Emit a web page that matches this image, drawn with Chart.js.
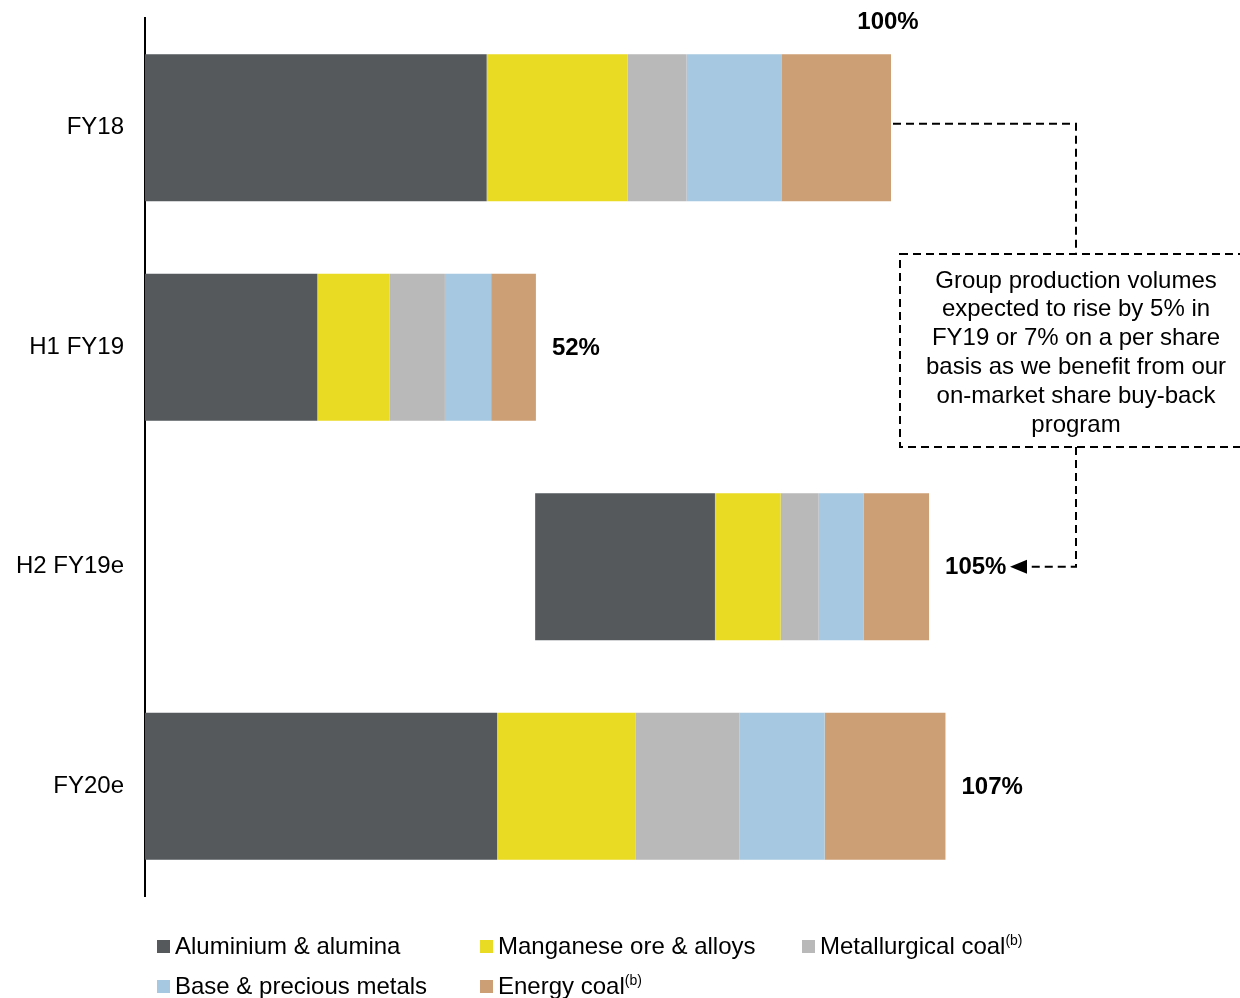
<!DOCTYPE html>
<html>
<head>
<meta charset="utf-8">
<script src="https://cdn.jsdelivr.net/npm/chart.js@4.4.1/dist/chart.umd.min.js"></script>
<style>
  html, body { margin: 0; padding: 0; background: #fff; }
  #wrap { position: relative; width: 1240px; height: 998px; overflow: hidden; font-family: "Liberation Sans", Arial, sans-serif; }
  canvas { position: absolute; left: 0; top: 0; }
  .lg { position: absolute; font-size: 24px; color: #000; white-space: nowrap; line-height: 24px; }
  .lg i { display: inline-block; width: 13px; height: 13px; margin-right: 5px; vertical-align: 1px; }
  .lg sup { font-size: 14px; vertical-align: 9px; line-height: 0; }
</style>
</head>
<body>
<div id="wrap">
  <canvas id="c" width="1240" height="998"></canvas>
  <div id="legend"></div>
</div>
<script>
// ---- data ----
const categories = ["FY18", "H1 FY19", "H2 FY19e", "FY20e"];
const offsetBase = [0, 0, 52.3, 0];           // invisible base so H2 starts where H1 ends
const aluminium   = [45.8, 23.1, 24.1, 47.2];
const manganese   = [18.9, 9.7, 8.8, 18.6];
const metCoal     = [7.9, 7.4, 5.1, 13.9];
const baseMetals  = [12.7, 6.2, 6.0, 11.4];
const energyCoal  = [14.7, 6.0, 8.8, 16.2];
const totalLabels = ["100%", "52%", "105%", "107%"];
const seriesNames = ["Aluminium & alumina", "Manganese ore & alloys", "Metallurgical coal", "Base & precious metals", "Energy coal"];
const seriesSup   = ["", "", "(b)", "", "(b)"];
const seriesColors = ["#55595C", "#E9DA23", "#B9B9BA", "#A6C8E1", "#CD9F75"];
const annotationLines = [
  "Group production volumes",
  "expected to rise by 5% in",
  "FY19 or 7% on a per share",
  "basis as we benefit from our",
  "on-market share buy-back",
  "program"
];

const FONT = '"Liberation Sans", Arial, sans-serif';
const seriesValues = [aluminium, manganese, metCoal, baseMetals, energyCoal];

const datasets = [{
  label: "base", data: offsetBase, backgroundColor: "rgba(0,0,0,0)", borderWidth: 0,
  categoryPercentage: 1, barPercentage: 0.67
}];
seriesValues.forEach((vals, i) => datasets.push({
  label: seriesNames[i], data: vals, backgroundColor: seriesColors[i], borderWidth: 0,
  categoryPercentage: 1, barPercentage: 0.67
}));

function stackEnd(i) {
  let s = offsetBase[i];
  seriesValues.forEach(v => s += v[i]);
  return s;
}

const overlay = {
  id: "overlay",
  afterDatasetsDraw(chart) {
    const ctx = chart.ctx, x = chart.scales.x, y = chart.scales.y;
    ctx.save();
    ctx.fillStyle = "#000";
    ctx.font = "bold 24px " + FONT;
    ctx.textBaseline = "middle";
    // total labels
    categories.forEach((c, i) => {
      const xe = x.getPixelForValue(stackEnd(i));
      const yc = y.getPixelForValue(i);
      if (i === 0) {
        ctx.textAlign = "center";
        ctx.fillText(totalLabels[i], xe - 3, 22);
      } else {
        ctx.textAlign = "left";
        ctx.fillText(totalLabels[i], xe + 16, yc + 1);
      }
    });
    // annotation box
    const bx = 900, by = 254, bw = 360, bh = 193, cx = 1076;
    ctx.strokeStyle = "#000";
    ctx.lineWidth = 2;
    ctx.setLineDash([8, 5]);
    ctx.strokeRect(bx, by, bw, bh);
    // connector from FY18 end to box
    const x0 = x.getPixelForValue(stackEnd(0));
    const y0 = y.getPixelForValue(0) - 4;
    ctx.beginPath();
    ctx.moveTo(x0 + 2, y0);
    ctx.lineTo(cx, y0);
    ctx.lineTo(cx, by);
    ctx.stroke();
    // connector from box to 105%
    const y2 = y.getPixelForValue(2);
    ctx.beginPath();
    ctx.moveTo(cx, by + bh);
    ctx.lineTo(cx, y2);
    ctx.lineTo(1030, y2);
    ctx.stroke();
    ctx.setLineDash([]);
    // arrow head
    ctx.beginPath();
    ctx.moveTo(1010, y2);
    ctx.lineTo(1027, y2 - 7);
    ctx.lineTo(1027, y2 + 7);
    ctx.closePath();
    ctx.fill();
    // annotation text
    ctx.font = "24px " + FONT;
    ctx.textAlign = "center";
    annotationLines.forEach((t, k) => ctx.fillText(t, cx, 281 + k * 28.8));
    ctx.restore();
  }
};

new Chart(document.getElementById("c"), {
  type: "bar",
  data: { labels: categories, datasets },
  options: {
    indexAxis: "y",
    responsive: false,
    animation: false,
    layout: { padding: { left: 0, top: 18, bottom: 102, right: 1240 - 145 - 140 * 7.46 } },
    plugins: { legend: { display: false }, tooltip: { enabled: false } },
    scales: {
      x: {
        stacked: true, min: 0, max: 140, display: false
      },
      y: {
        stacked: true,
        grid: { display: false, drawTicks: false },
        border: { display: true, color: "#000", width: 2 },
        ticks: { color: "#000", font: { family: FONT, size: 24 }, padding: 21 },
        afterFit(scale) { scale.width = 145; scale.paddingTop = 0; scale.paddingBottom = 0; }
      }
    }
  },
  plugins: [overlay]
});

// HTML legend
const legendPos = [[157, 934], [480, 934], [802, 934], [157, 974], [480, 974]];
const lg = document.getElementById("legend");
seriesNames.forEach((n, i) => {
  const d = document.createElement("div");
  d.className = "lg";
  d.style.left = legendPos[i][0] + "px";
  d.style.top = legendPos[i][1] + "px";
  d.innerHTML = '<i style="background:' + seriesColors[i] + '"></i>' +
    n.replace(/&/g, "&amp;") + (seriesSup[i] ? "<sup>" + seriesSup[i] + "</sup>" : "");
  lg.appendChild(d);
});
</script>
</body>
</html>
